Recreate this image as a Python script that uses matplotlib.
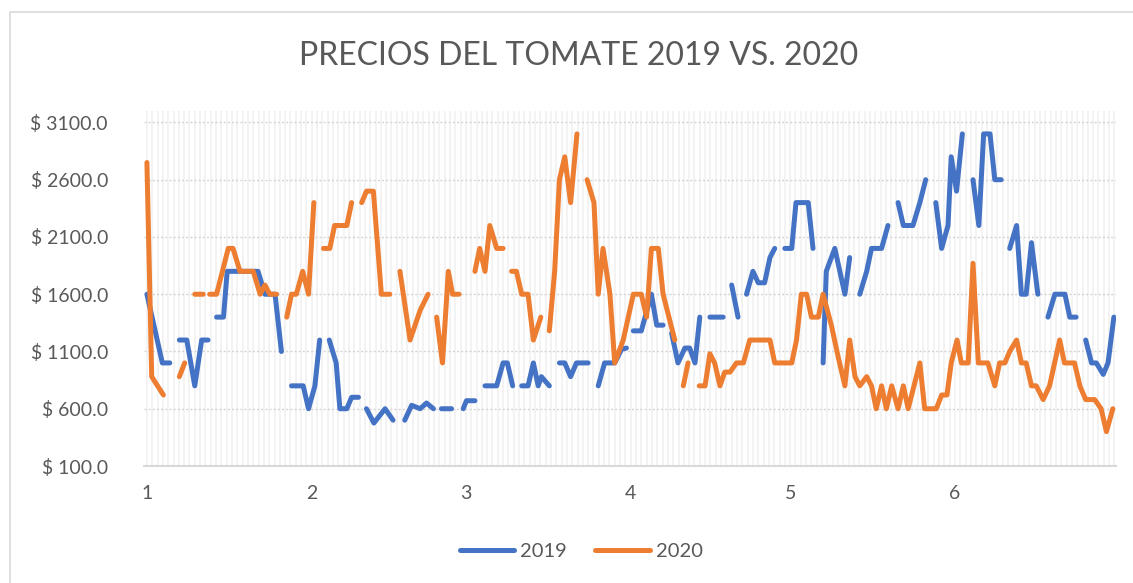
import numpy as np
import matplotlib.pyplot as plt
from matplotlib.patches import Rectangle

# dia del año (0 = 1 de enero) y precio; nan = hueco en la serie
dias_2019 = [0.0, 1.2, 2.9, 4.3, np.nan,
             6.1, 7.5, 9.0, 10.3, 11.5, np.nan,
             13.1, 14.4, 15.1, 20.9, 22.2, 24.1, 25.3, np.nan,
             27.2, 29.4, 30.4, 31.6, 32.5, np.nan,
             34.3, 35.6, 36.3, 37.6, 38.5, 39.8, np.nan,
             41.3, 42.7, 44.8, 46.3, np.nan,
             48.5, 49.8, 51.4, 52.6, 53.9, np.nan,
             55.4, 57.3, np.nan,
             59.5, 60.1, 61.7, np.nan,
             63.6, 65.8, 67.0, 67.8, 68.8, np.nan,
             70.5, 71.7, 72.7, 73.6, 74.2, 75.7, np.nan,
             77.6, 78.6, 79.7, 80.8, 83.0, np.nan,
             84.9, 86.1, 88.0, 89.3, 90.2, np.nan,
             91.5, 93.0, 94.9, 95.9, 97.1, np.nan,
             98.7, 99.9, 101.2, 102.1, 103.1, 104.0, np.nan,
             105.9, 108.4, np.nan,
             110.0, 111.2, np.nan,
             112.8, 114.0, 115.0, 116.2, 117.2, 118.1, np.nan,
             120.0, 121.3, 122.1, 124.4, 125.3, np.nan,
             127.2, 127.8, 129.4, 131.3, 132.2, np.nan,
             134.1, 135.4, 136.3, 138.2, 139.4, np.nan,
             141.3, 142.3, 144.1, 145.4, 146.5, np.nan,
             148.4, 149.5, 150.7, 151.3, 152.3, 153.4, np.nan,
             155.4, 156.5, 157.4, 158.6, 159.5, 160.7, np.nan,
             162.3, 163.6, 164.5, 165.4, 166.4, 167.6, np.nan,
             169.5, 170.8, 172.7, 173.6, 174.8, np.nan,
             176.6, 177.7, 178.6, 179.9, 180.8, 181.9]
precio_2019 = [1600, 1350, 1000, 1000, np.nan,
               1200, 1200, 800, 1200, 1200, np.nan,
               1400, 1400, 1800, 1800, 1600, 1600, 1100, np.nan,
               800, 800, 600, 800, 1200, np.nan,
               1200, 1000, 600, 600, 700, 700, np.nan,
               600, 475, 600, 500, np.nan,
               500, 630, 600, 650, 600, np.nan,
               600, 600, np.nan,
               600, 670, 670, np.nan,
               800, 800, 1000, 1000, 800, np.nan,
               800, 800, 1000, 800, 880, 800, np.nan,
               1000, 1000, 880, 1000, 1000, np.nan,
               800, 1000, 1000, 1120, 1130, np.nan,
               1280, 1280, 1600, 1330, 1330, np.nan,
               1260, 1000, 1130, 1130, 1000, 1400, np.nan,
               1400, 1400, np.nan,
               1680, 1400, np.nan,
               1600, 1800, 1700, 1700, 1920, 2000, np.nan,
               2000, 2000, 2400, 2400, 2000, np.nan,
               1000, 1800, 2000, 1600, 1920, np.nan,
               1600, 1800, 2000, 2000, 2200, np.nan,
               2400, 2200, 2200, 2400, 2600, np.nan,
               2400, 2000, 2200, 2800, 2500, 3000, np.nan,
               2600, 2200, 3000, 3000, 2600, 2600, np.nan,
               2000, 2200, 1600, 1600, 2050, 1600, np.nan,
               1400, 1600, 1600, 1400, 1400, np.nan,
               1200, 1000, 1000, 900, 1000, 1400]

dias_2020 = [0.0, 0.9, 2.0, 3.1, np.nan,
             6.1, 7.1, np.nan,
             9.0, 10.6, np.nan,
             11.8, 13.1, 15.3, 16.2, 17.5, 20.0, 21.3, 22.2, 23.1, 24.4, np.nan,
             26.3, 27.2, 28.1, 29.3, 30.4, 31.4, np.nan,
             33.2, 34.4, 35.3, 37.6, 38.5, np.nan,
             40.4, 41.3, 42.6, 44.1, 45.7, np.nan,
             47.6, 49.5, 51.4, 52.9, np.nan,
             54.5, 55.6, 56.7, 57.5, 58.7, np.nan,
             61.7, 62.6, 63.6, 64.5, 65.8, 67.0, np.nan,
             68.6, 69.5, 70.5, 71.7, 72.7, 74.1, np.nan,
             75.7, 76.7, 77.6, 78.6, 79.7, 80.9, np.nan,
             82.8, 84.1, 84.9, 85.8, 87.1, 88.0, 89.6, 91.5, 93.0, 94.0,
             94.9, 96.2, 97.1, 99.3, np.nan,
             100.9, 101.8, np.nan,
             103.9, 105.0, 105.9, 106.8, 107.8, 108.7, 109.7, 110.9, 112.2,
             113.4, 117.2, 118.1, 121.3, 122.2, 123.1, 124.1, 125.0, 126.3,
             127.2, 128.8, 130.0, 131.3, 132.2, 133.2, 134.1, 135.4, 136.3,
             137.2, 138.2, 139.1, 140.1, 141.3, 142.3, 143.2, 145.4, 146.3,
             148.5, 149.5, 150.5, 151.3, 152.4, 153.2, 154.5, 155.4, 156.4,
             158.2, 159.5, 160.4, 161.4, 162.3, 163.6, 164.5, 165.4, 166.4,
             167.3, 168.6, 169.8, 171.7, 172.6, 174.5, 175.5, 176.6, 178.3,
             179.5, 180.5, 181.7]
precio_2020 = [2750, 880, 800, 720, np.nan,
               880, 1000, np.nan,
               1600, 1600, np.nan,
               1600, 1600, 2000, 2000, 1800, 1800, 1600, 1680, 1600, 1600, np.nan,
               1400, 1600, 1600, 1800, 1600, 2400, np.nan,
               2000, 2000, 2200, 2200, 2400, np.nan,
               2400, 2500, 2500, 1600, 1600, np.nan,
               1800, 1200, 1460, 1600, np.nan,
               1400, 1000, 1800, 1600, 1600, np.nan,
               1800, 2000, 1800, 2200, 2000, 2000, np.nan,
               1800, 1800, 1600, 1600, 1200, 1400, np.nan,
               1280, 1800, 2600, 2800, 2400, 3000, np.nan,
               2600, 2400, 1600, 2000, 1600, 1000, 1200, 1600, 1600, 1400,
               2000, 2000, 1600, 1200, np.nan,
               800, 1000, np.nan,
               800, 800, 1080, 1000, 800, 920, 920, 1000, 1000,
               1200, 1200, 1000, 1000, 1200, 1600, 1600, 1400, 1400,
               1600, 1320, 1060, 800, 1200, 880, 800, 880, 800,
               600, 800, 600, 800, 600, 800, 600, 1000, 600,
               600, 720, 720, 1000, 1200, 1000, 1000, 1870, 1000,
               1000, 800, 1000, 1000, 1100, 1200, 1000, 1000, 800,
               800, 680, 800, 1200, 1000, 1000, 800, 680, 680,
               600, 400, 600]

inicio_mes = [0, 31, 60, 91, 121, 152]
etiquetas_mes = ["1", "2", "3", "4", "5", "6"]
yticks = [100, 600, 1100, 1600, 2100, 2600, 3100]

gris = "#595959"
plt.rcParams['font.family'] = ['Lato', 'DejaVu Sans']

fig = plt.figure(figsize=(11.33, 5.83), dpi=100)
# borde del area del grafico (solo se ve arriba e izquierda)
fig.patches.append(Rectangle((10 / 1133, -0.1), 1.2, 1 - 12 / 583 + 0.1,
                             transform=fig.transFigure, fill=False,
                             edgecolor="#d9d9d9", lw=1.2))

ax = fig.add_axes([144 / 1133, 117 / 583, (1116 - 144) / 1133, (472 - 117) / 583])
ax.set_xlim(-0.55, 182.3)
ax.set_ylim(100, 3200)

# rejilla vertical diaria muy tenue
for d in range(0, 183):
    ax.axvline(d, color="#f1f1f1", lw=1.2, zorder=0)
for v in yticks[1:]:
    ax.axhline(v, color="#d4d4d4", lw=1.0, ls=(0, (1.5, 1.5)), zorder=1)

ax.plot(dias_2019, precio_2019, color="#4472C4", lw=3.6,
        solid_capstyle="round", solid_joinstyle="round", label="2019", zorder=3)
ax.plot(dias_2020, precio_2020, color="#ED7D31", lw=3.6,
        solid_capstyle="round", solid_joinstyle="round", label="2020", zorder=4)

ax.set_xticks(inicio_mes)
ax.set_xticklabels(etiquetas_mes)
ax.set_yticks(yticks)
ax.set_yticklabels(["$ %.1f" % v for v in yticks])
ax.tick_params(axis="both", length=0, labelsize=14, labelcolor=gris)
ax.tick_params(axis="x", pad=14)
ax.tick_params(axis="y", pad=26)
for s in ["top", "right", "left"]:
    ax.spines[s].set_visible(False)
ax.spines["bottom"].set_color("#d9d9d9")
ax.spines["bottom"].set_linewidth(1.5)

fig.text(0.511, 1 - 56 / 583, "PRECIOS DEL TOMATE 2019 VS. 2020",
         ha="center", va="center", fontsize=23, color=gris)

fig.legend(loc="center", bbox_to_anchor=(0.513, 1 - 551 / 583), ncol=2,
           frameon=False, fontsize=14.5, labelcolor=gris, handlelength=2.7,
           columnspacing=1.4, handletextpad=0.3)

fig.savefig("out.png", dpi=100, facecolor="white")
